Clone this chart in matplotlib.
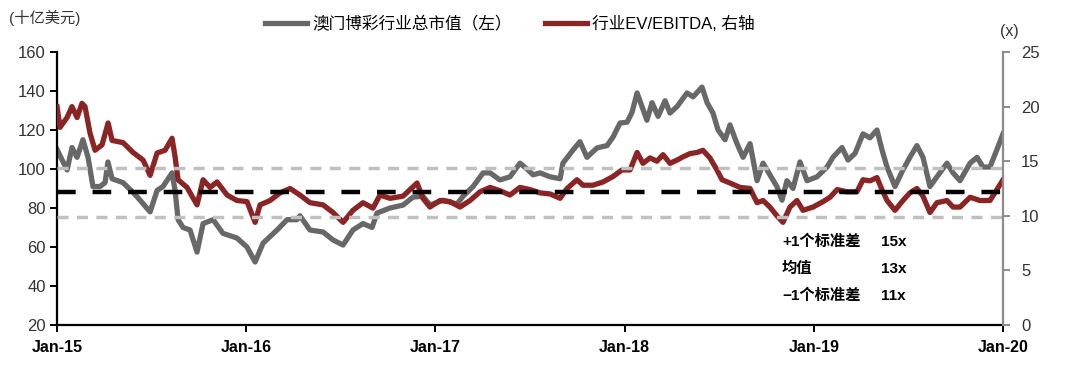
import numpy as np
import matplotlib
matplotlib.use('Agg')
import matplotlib.pyplot as plt

plt.rcParams['font.family'] = ['Liberation Sans', 'Noto Sans CJK SC', 'DejaVu Sans']

# 澳门博彩行业总市值 (十亿美元), 时间以 2015 年初起的年数计
cap_t = [0.000, 0.053, 0.079, 0.106, 0.137, 0.164, 0.190, 0.227, 0.254, 0.269,
         0.291, 0.349, 0.402, 0.439, 0.492, 0.529, 0.560, 0.608, 0.624, 0.640,
         0.666, 0.703, 0.740, 0.772, 0.825, 0.877, 0.951, 1.004, 1.047, 1.089,
         1.163, 1.216, 1.268, 1.284, 1.337, 1.406, 1.459, 1.512, 1.564, 1.617,
         1.665, 1.691, 1.760, 1.829, 1.882, 1.934, 1.971, 2.040, 2.114, 2.146,
         2.199, 2.252, 2.289, 2.341, 2.394, 2.447, 2.484, 2.516, 2.553, 2.606,
         2.659, 2.674, 2.727, 2.764, 2.801, 2.854, 2.907, 2.939, 2.976, 3.013,
         3.039, 3.066, 3.092, 3.118, 3.145, 3.177, 3.214, 3.240, 3.277, 3.330,
         3.362, 3.409, 3.436, 3.467, 3.494, 3.531, 3.557, 3.594, 3.626, 3.663,
         3.700, 3.732, 3.768, 3.805, 3.832, 3.858, 3.890, 3.927, 3.964, 4.017,
         4.070, 4.101, 4.149, 4.181, 4.218, 4.260, 4.297, 4.334, 4.360, 4.387,
         4.429, 4.471, 4.508, 4.545, 4.577, 4.614, 4.651, 4.704, 4.736, 4.773,
         4.826, 4.863, 4.894, 4.931, 4.968, 5.000]
cap_v = [110, 99.5, 111, 106, 115, 106, 91, 91, 93, 103.6,
         95, 93, 88, 84, 78, 89, 91, 98, 89, 74,
         70, 68.7, 57.4, 72, 74, 67, 64.6, 60, 52.3, 62,
         68.7, 74, 74, 76, 68.7, 67.7, 63.6, 61, 68.7, 72,
         70, 77.4, 80, 81.5, 85.6, 86, 81.5, 84, 82, 86,
         91, 98, 98, 94.4, 96, 103, 100, 97, 98, 96,
         95, 103, 109.7, 114, 106, 110.8, 112, 116.4, 123.6, 124,
         129, 139, 132, 125, 134, 127, 135, 128.7, 132, 139,
         137, 142, 134, 128.7, 120, 115, 122.6, 113, 106, 113,
         94, 103, 97, 91, 84, 94, 90, 103.6, 94, 96,
         101, 106, 111, 104.6, 108, 118, 116, 120, 110, 101,
         91, 99.5, 106, 112, 106, 91, 96, 103, 98, 94,
         103, 106, 101, 101, 110, 118]

# 行业 EV/EBITDA (x)
ev_t = [0.000, 0.016, 0.053, 0.079, 0.106, 0.132, 0.148, 0.174, 0.201, 0.238,
        0.270, 0.291, 0.349, 0.402, 0.455, 0.492, 0.529, 0.571, 0.608, 0.624,
        0.640, 0.687, 0.740, 0.772, 0.809, 0.846, 0.899, 0.951, 1.004, 1.047,
        1.073, 1.126, 1.179, 1.232, 1.284, 1.337, 1.406, 1.459, 1.512, 1.564,
        1.617, 1.670, 1.707, 1.760, 1.829, 1.903, 1.934, 1.971, 2.024, 2.077,
        2.130, 2.183, 2.236, 2.289, 2.341, 2.394, 2.447, 2.500, 2.553, 2.606,
        2.659, 2.696, 2.748, 2.780, 2.833, 2.886, 2.939, 2.986, 3.029, 3.066,
        3.097, 3.134, 3.171, 3.203, 3.240, 3.277, 3.309, 3.346, 3.383, 3.414,
        3.451, 3.488, 3.515, 3.557, 3.610, 3.663, 3.700, 3.732, 3.768, 3.805,
        3.837, 3.874, 3.911, 3.943, 3.996, 4.049, 4.086, 4.123, 4.175, 4.228,
        4.260, 4.297, 4.334, 4.360, 4.387, 4.429, 4.471, 4.508, 4.545, 4.577,
        4.614, 4.651, 4.704, 4.736, 4.773, 4.826, 4.878, 4.931, 4.968, 5.000]
ev_v = [20, 18.1, 19, 20, 19, 20.3, 20, 17.6, 16, 16.5,
        18.5, 16.9, 16.7, 15.8, 15.1, 13.7, 15.75, 16, 17.1, 15.4,
        13.3, 12.6, 11, 13.3, 12.6, 13.1, 11.9, 11.4, 11.3, 9.4,
        11, 11.4, 12.1, 12.5, 11.9, 11.2, 11, 10.3, 9.4, 10.5,
        11.2, 10.7, 11.9, 11.6, 11.8, 13, 11.6, 10.8, 11.4, 11.3,
        10.8, 11.4, 12.2, 12.6, 12.3, 11.9, 12.6, 12.4, 12.1, 12,
        11.6, 12.5, 13.3, 12.8, 12.8, 13.1, 13.6, 14.2, 14.2, 15.8,
        14.8, 15.3, 15, 15.6, 14.8, 15.1, 15.4, 15.7, 15.8, 16,
        15.3, 14.2, 13.3, 13, 12.6, 12.5, 11.2, 11.4, 10.8, 10.0,
        9.4, 10.8, 11.4, 10.5, 10.8, 11.3, 11.7, 12.4, 12.2, 12.2,
        13.3, 13.2, 13.5, 12.4, 11.4, 10.5, 11.4, 12.1, 12.5, 11.8,
        10.3, 11.2, 11.4, 10.8, 10.8, 11.7, 11.4, 11.4, 12.4, 13.3]

ev_mean = 12.2
ev_plus_sd = 14.4
ev_minus_sd = 9.9

years = [0, 1, 2, 3, 4, 5]
year_labels = ['Jan-15', 'Jan-16', 'Jan-17', 'Jan-18', 'Jan-19', 'Jan-20']
notes = [('+1个标准差', '15x'), ('均值', '13x'), ('\u22121个标准差', '11x')]

fig = plt.figure(figsize=(10.8, 3.79), dpi=100)
ax = fig.add_axes([0.0528, 0.1425, 0.8759, 0.7203])
ax2 = ax.twinx()

l1, = ax.plot(cap_t, cap_v, color='#686868', lw=3.8, solid_joinstyle='round',
              label='澳门博彩行业总市值（左）')
l2, = ax2.plot(ev_t, ev_v, color='#8b2424', lw=3.8, solid_joinstyle='round',
               label='行业EV/EBITDA, 右轴')
ax2.axhline(ev_mean, color='black', lw=3.2, dashes=(4.2, 3.8), zorder=5)
ax2.axhline(ev_plus_sd, color='#c0c0c0', lw=2.5, dashes=(3.2, 2.4), zorder=5)
ax2.axhline(ev_minus_sd, color='#c0c0c0', lw=2.5, dashes=(3.2, 2.4), zorder=5)

ax.set_xlim(0, 5)
ax.set_ylim(20, 160)
ax.set_yticks(range(20, 161, 20))
ax2.set_ylim(0, 25)
ax2.set_yticks(range(0, 26, 5))
ax.set_xticks(years)
ax.set_xticklabels(year_labels, fontweight='bold', fontsize=11.5,
                   family=['Liberation Sans Narrow', 'Liberation Sans'])

ax.spines['top'].set_visible(False)
ax2.spines['top'].set_visible(False)
ax2.spines['left'].set_visible(False)
ax2.spines['bottom'].set_visible(False)
ax.spines['right'].set_visible(False)
ax.spines['left'].set_linewidth(1.6)
ax.spines['bottom'].set_linewidth(1.6)
ax2.spines['right'].set_color('#8c8c8c')
ax2.spines['right'].set_linewidth(1.6)

ax.tick_params(axis='y', direction='out', length=5, width=1.4, labelsize=12,
               labelcolor='#333333', pad=3)
ax.tick_params(axis='x', direction='out', length=5, width=1.4, pad=6)
ax2.tick_params(axis='y', direction='out', length=5, width=1.4, labelsize=12,
                color='#8c8c8c', labelcolor='#333333', pad=8)

fig.text(0.008, 0.952, '(十亿美元)', fontsize=11, color='#333333', va='center')
fig.text(0.943, 0.918, '(x)', fontsize=11.5, color='#333333', va='center', ha='right')

fig.legend(handles=[l1, l2], loc='center', bbox_to_anchor=(0.472, 0.937), ncol=2,
           frameon=False, fontsize=12, handlelength=2.5, columnspacing=2.0,
           handletextpad=0.3)

ys = [0.362, 0.291, 0.220]
for (lab, val), y in zip(notes, ys):
    fig.text(0.724, y, lab, fontsize=11, fontweight='bold', va='center')
    fig.text(0.816, y, val, fontsize=11, fontweight='bold', va='center')

fig.savefig('out.png', dpi=100)
